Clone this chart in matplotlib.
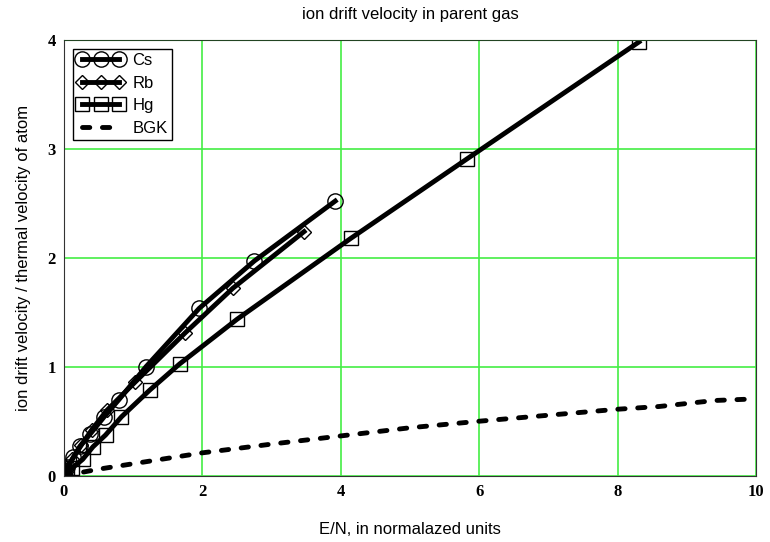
import matplotlib.pyplot as plt

# values
cs_x = [0.0, 0.05, 0.135, 0.23, 0.376, 0.58, 0.79, 1.185, 1.955, 2.75, 3.92]
cs_y = [0.0, 0.08, 0.17, 0.27, 0.38, 0.54, 0.695, 1.0, 1.536, 1.97, 2.52]

rb_x = [0.0, 0.04, 0.12, 0.25, 0.4, 0.62, 1.03, 1.75, 2.44, 3.47]
rb_y = [0.0, 0.06, 0.15, 0.28, 0.42, 0.6, 0.86, 1.31, 1.72, 2.24]

hg_x = [0.0, 0.04, 0.12, 0.27, 0.42, 0.60, 0.83, 1.24, 1.67, 2.50, 4.15, 5.82, 8.31]
hg_y = [0.0, 0.03, 0.07, 0.15, 0.266, 0.373, 0.54, 0.786, 1.025, 1.435, 2.18, 2.905, 3.98]

bgk_x = [0.0, 0.5, 1, 2, 3, 4, 5, 6, 7, 8, 8.6, 9.4, 10]
bgk_y = [0.0, 0.06, 0.11, 0.21, 0.29, 0.365, 0.44, 0.50, 0.555, 0.61, 0.635, 0.69, 0.705]

x_ticks = [0, 2, 4, 6, 8, 10]
y_ticks = [0, 1, 2, 3, 4]

fig = plt.figure(figsize=(7.7, 5.42), dpi=100)
ax = fig.add_axes([0.0831, 0.1223, 0.8987, 0.8044])

mk = dict(markerfacecolor='none', markeredgecolor='black', markeredgewidth=1.0)
ax.plot(cs_x, cs_y, color='black', lw=3.5, marker='o', markersize=11, label='Cs', **mk)
ax.plot(rb_x, rb_y, color='black', lw=3.5, marker='D', markersize=7, label='Rb', **mk)
ax.plot(hg_x, hg_y, color='black', lw=3.5, marker='s', markersize=10, label='Hg', **mk)
ax.plot(bgk_x, bgk_y, color='black', lw=3.5, ls=(0, (1.5, 2.6)), dash_capstyle='round',
        label='BGK')

ax.set_xlim(0, 10)
ax.set_ylim(0, 4)
ax.set_xticks(x_ticks)
ax.set_yticks(y_ticks)
ax.grid(True, color='#44ee44', lw=1.2)
ax.set_axisbelow(True)
ax.tick_params(length=0, pad=6)
for lab in ax.get_xticklabels() + ax.get_yticklabels():
    lab.set_family('Liberation Serif')
    lab.set_fontweight('bold')
    lab.set_fontsize(12)
for s in ax.spines.values():
    s.set_color('#333333')
ax.spines['top'].set_color('#224422')

ax.set_title('ion drift velocity in parent gas', family='Liberation Sans',
             fontsize=12, pad=15)
ax.set_xlabel('E/N, in normalazed units', family='Liberation Sans', fontsize=12,
              labelpad=16)
ax.set_ylabel('ion drift velocity / thermal velocity of atom',
              family='Liberation Sans', fontsize=12, labelpad=12)

leg = ax.legend(loc='upper left', numpoints=3, fancybox=False, framealpha=1,
                edgecolor='black', prop={'family': 'Liberation Sans', 'size': 12},
                handlelength=2.8, handletextpad=0.5, borderpad=0.25,
                labelspacing=0.45, borderaxespad=0.55)
leg.get_frame().set_linewidth(1.0)

fig.savefig('out.png', dpi=100)
